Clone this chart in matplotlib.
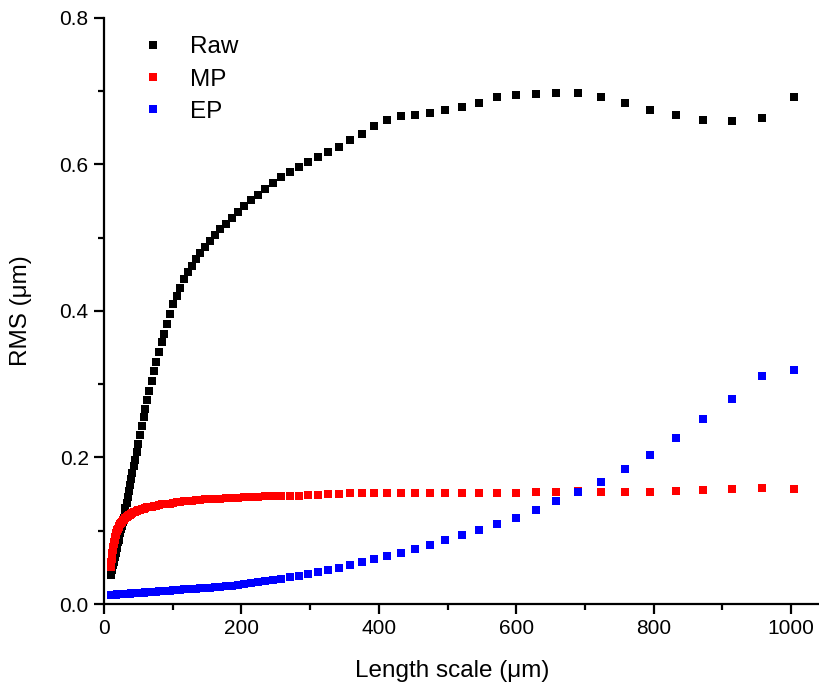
import matplotlib
matplotlib.use("Agg")
import matplotlib.pyplot as plt
from matplotlib.ticker import MultipleLocator, FormatStrFormatter

plt.rcParams['font.family'] = ['Liberation Sans', 'DejaVu Sans']

length_scale = [
    9.70, 10.17, 10.65, 11.16, 11.70, 12.26, 12.85, 13.47, 14.11, 14.79,
    15.50, 16.24, 17.02, 17.84, 18.69, 19.59, 20.53, 21.52, 22.55, 23.63,
    24.76, 25.95, 27.20, 28.50, 29.87, 31.30, 32.80, 34.38, 36.03, 37.75,
    39.56, 41.46, 43.45, 45.53, 47.72, 50.01, 52.41, 54.92, 57.56, 60.32,
    63.21, 66.24, 69.42, 72.75, 76.24, 79.90, 83.73, 87.75, 91.96, 96.37,
    100.99, 105.84, 110.92, 116.24, 121.82, 127.66, 133.79, 140.21, 146.93, 153.98,
    161.37, 169.11, 177.23, 185.73, 194.64, 203.98, 213.77, 224.02, 234.77, 246.04,
    257.84, 270.21, 283.18, 296.77, 311.01, 325.93, 341.57, 357.96, 375.14, 393.14,
    412.0, 431.8, 452.5, 474.2, 497.0, 520.8, 545.8, 572.0, 599.5, 628.2,
    658.4, 689.9, 723.0, 757.7, 794.1, 832.2, 872.1, 913.9, 957.8, 1003.8,
]

rms_raw = [
    0.040, 0.042, 0.044, 0.046, 0.048, 0.050, 0.053, 0.055, 0.058, 0.061,
    0.064, 0.067, 0.070, 0.073, 0.077, 0.080, 0.084, 0.088, 0.093, 0.097,
    0.102, 0.107, 0.112, 0.118, 0.125, 0.131, 0.138, 0.146, 0.154, 0.162,
    0.170, 0.179, 0.188, 0.197, 0.207, 0.218, 0.231, 0.243, 0.255, 0.266,
    0.279, 0.291, 0.305, 0.318, 0.331, 0.344, 0.357, 0.369, 0.382, 0.396,
    0.409, 0.421, 0.432, 0.443, 0.453, 0.462, 0.471, 0.479, 0.488, 0.496,
    0.504, 0.512, 0.519, 0.527, 0.535, 0.543, 0.551, 0.558, 0.566, 0.575,
    0.583, 0.590, 0.597, 0.603, 0.610, 0.617, 0.624, 0.633, 0.642, 0.652,
    0.661, 0.666, 0.668, 0.670, 0.674, 0.679, 0.684, 0.692, 0.695, 0.696,
    0.697, 0.698, 0.692, 0.684, 0.675, 0.668, 0.661, 0.660, 0.664, 0.692,
]

rms_mp = [
    0.050, 0.054, 0.058, 0.062, 0.066, 0.070, 0.074, 0.078, 0.082, 0.085,
    0.088, 0.091, 0.094, 0.097, 0.099, 0.101, 0.103, 0.105, 0.107, 0.109,
    0.111, 0.112, 0.114, 0.115, 0.117, 0.118, 0.119, 0.120, 0.121, 0.122,
    0.123, 0.124, 0.125, 0.126, 0.127, 0.128, 0.129, 0.130, 0.130, 0.131,
    0.132, 0.132, 0.133, 0.134, 0.134, 0.135, 0.136, 0.136, 0.137, 0.137,
    0.138, 0.139, 0.139, 0.140, 0.141, 0.141, 0.142, 0.142, 0.143, 0.143,
    0.144, 0.144, 0.145, 0.145, 0.145, 0.146, 0.146, 0.146, 0.147, 0.147,
    0.147, 0.148, 0.148, 0.149, 0.149, 0.150, 0.150, 0.151, 0.151, 0.151,
    0.151, 0.151, 0.151, 0.151, 0.151, 0.152, 0.152, 0.152, 0.152, 0.153,
    0.153, 0.154, 0.153, 0.153, 0.153, 0.154, 0.156, 0.157, 0.158, 0.157,
]

rms_ep = [
    0.0124, 0.0124, 0.0124, 0.0125, 0.0125, 0.0126, 0.0126, 0.0126, 0.0127, 0.0127,
    0.0128, 0.0128, 0.0129, 0.0129, 0.0130, 0.0131, 0.0131, 0.0132, 0.0133, 0.0134,
    0.0134, 0.0135, 0.0136, 0.0137, 0.0138, 0.0139, 0.0140, 0.0141, 0.0142, 0.0143,
    0.0145, 0.0146, 0.0147, 0.0149, 0.0150, 0.0152, 0.0154, 0.0155, 0.0157, 0.0159,
    0.0161, 0.0163, 0.0166, 0.0168, 0.0170, 0.0173, 0.0176, 0.0178, 0.0181, 0.0184,
    0.0188, 0.0191, 0.0195, 0.0198, 0.0202, 0.0206, 0.0211, 0.0215, 0.0220, 0.0225,
    0.0230, 0.0235, 0.0241, 0.0250, 0.0260, 0.0272, 0.0283, 0.0296, 0.0312, 0.0327,
    0.0343, 0.0362, 0.0385, 0.0408, 0.0433, 0.0460, 0.0490, 0.053, 0.057, 0.061,
    0.065, 0.070, 0.075, 0.081, 0.087, 0.094, 0.101, 0.109, 0.118, 0.128,
    0.140, 0.153, 0.167, 0.184, 0.204, 0.227, 0.252, 0.280, 0.311, 0.320,
]

series = [("Raw", rms_raw, "#000000"), ("MP", rms_mp, "#ff0000"), ("EP", rms_ep, "#0000ff")]

fig = plt.figure(figsize=(8.2, 6.91), dpi=100)
ax = fig.add_axes([0.1268, 0.1259, 0.8732, 0.8481])

for name, vals, col in series:
    ax.plot(length_scale, vals, linestyle="none", marker="s", markersize=5.6,
            color=col, markeredgewidth=0, label=name)

ax.set_xlim(0, 1042)
ax.set_ylim(0, 0.8)
ax.xaxis.set_major_locator(MultipleLocator(200))
ax.xaxis.set_minor_locator(MultipleLocator(100))
ax.yaxis.set_major_locator(MultipleLocator(0.2))
ax.yaxis.set_minor_locator(MultipleLocator(0.1))
ax.yaxis.set_major_formatter(FormatStrFormatter("%.1f"))

for side in ("top", "right"):
    ax.spines[side].set_visible(False)
for side in ("left", "bottom"):
    ax.spines[side].set_linewidth(1.6)

ax.tick_params(which="major", direction="out", length=7, width=1.6, labelsize=15, pad=4)
ax.tick_params(which="minor", direction="out", length=4, width=1.6)

ax.set_xlabel("Length scale (\u03bcm)", fontsize=17.5)
ax.set_ylabel("RMS (\u03bcm)", fontsize=17.5)
ax.xaxis.set_label_coords(0.486, -0.095)
ax.yaxis.set_label_coords(-0.100, 0.5)

ax.legend(loc="upper left", bbox_to_anchor=(0.035, 0.985), frameon=False,
          fontsize=17.5, handlelength=1.2, handletextpad=0.9,
          labelspacing=0.42, borderaxespad=0)

fig.savefig("out.png", dpi=100)
